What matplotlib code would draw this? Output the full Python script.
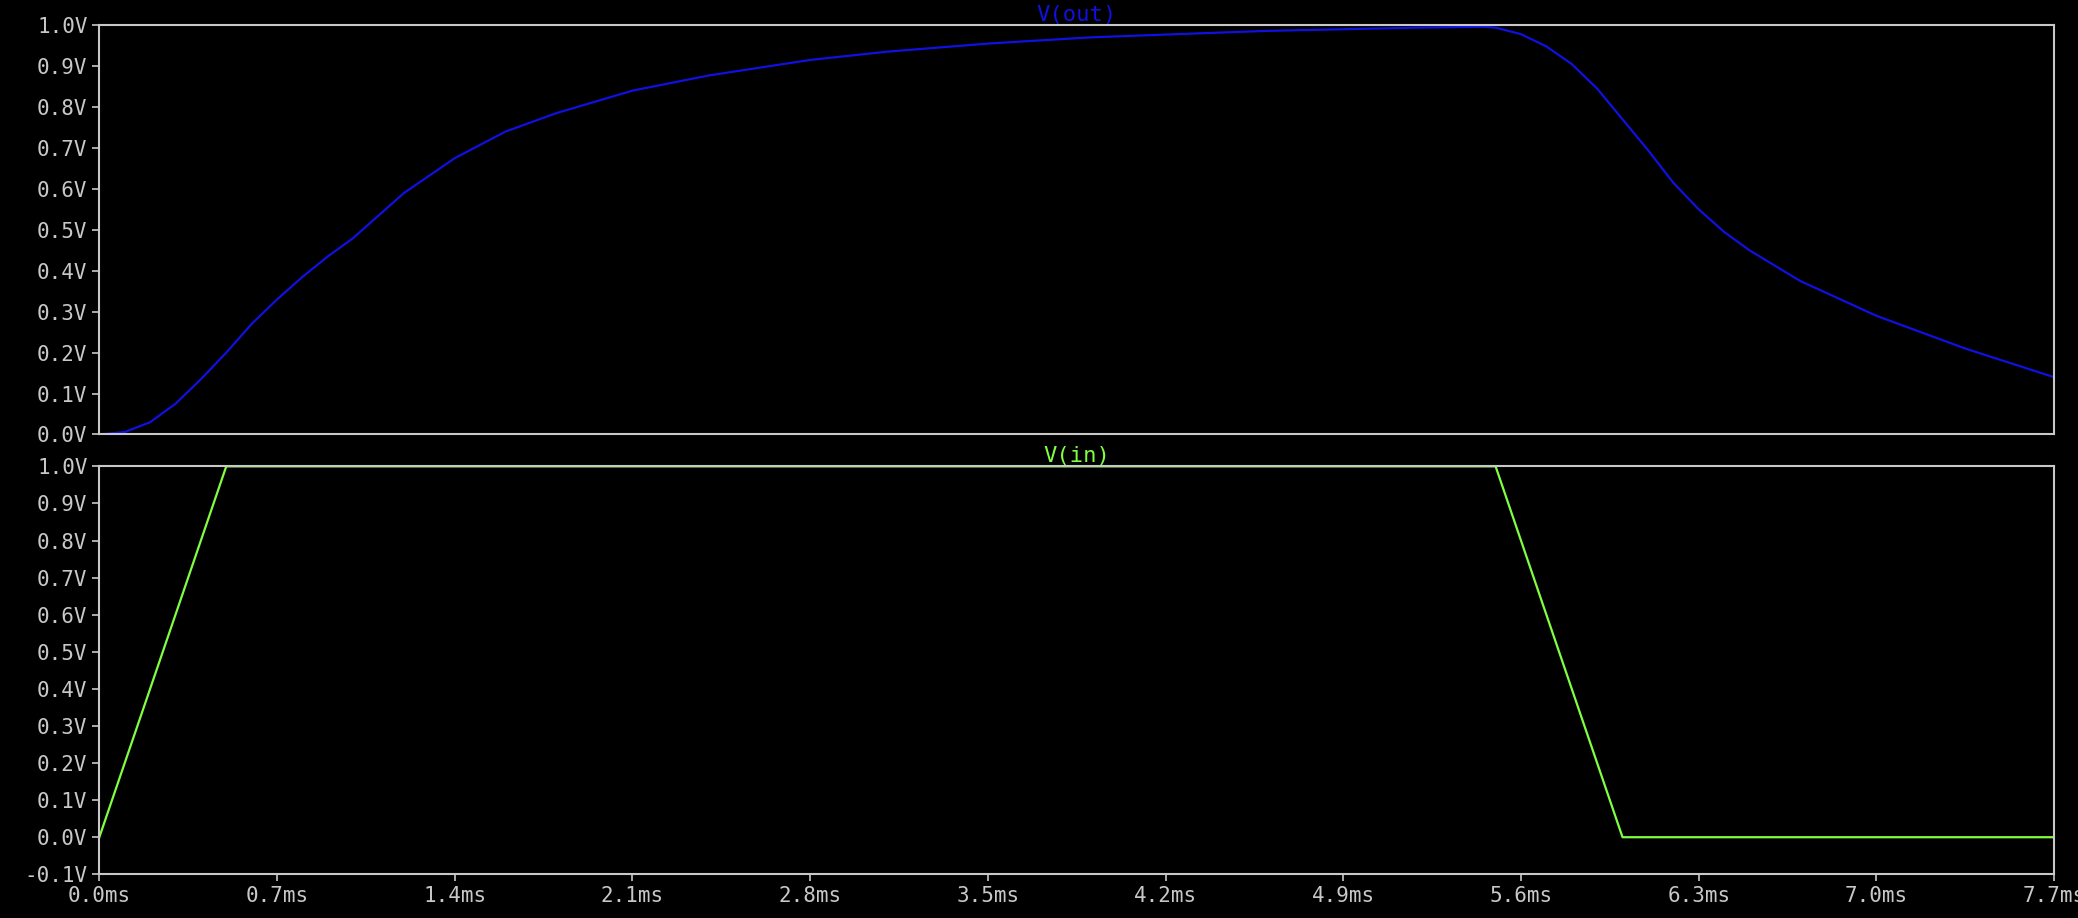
import matplotlib
matplotlib.use("Agg")
import matplotlib.pyplot as plt
import numpy as np

# V(out) samples (ms, V)
t_out = [0.0, 0.1, 0.2, 0.3, 0.4, 0.5, 0.6, 0.7, 0.8, 0.9, 1.0, 1.2, 1.4, 1.6, 1.8, 2.1, 2.4, 2.8, 3.1, 3.5,
         3.9, 4.2, 4.6, 4.9, 5.2, 5.45, 5.5, 5.6, 5.7, 5.8, 5.9, 6.0, 6.1, 6.2, 6.3, 6.4, 6.5, 6.7, 7.0, 7.35, 7.7]
v_out = [0.0, 0.006, 0.03, 0.075, 0.135, 0.2, 0.27, 0.33, 0.385, 0.435, 0.48, 0.59, 0.675, 0.74, 0.785, 0.84,
         0.877, 0.915, 0.935, 0.955, 0.97, 0.977, 0.986, 0.99, 0.994, 0.996, 0.994, 0.978, 0.948, 0.905, 0.845,
         0.77, 0.695, 0.615, 0.55, 0.495, 0.45, 0.375, 0.29, 0.21, 0.14]

# V(in) piecewise linear
t_in = [0.0, 0.5, 5.5, 6.0, 7.7]
v_in = [0.0, 1.0, 1.0, 0.0, 0.0]

xticks = [0.0, 0.7, 1.4, 2.1, 2.8, 3.5, 4.2, 4.9, 5.6, 6.3, 7.0, 7.7]

plt.rcParams['font.family'] = ['DejaVu Sans Mono']
fg = "#c8c8c8"

fig = plt.figure(figsize=(20.78, 9.18), dpi=100, facecolor="black")
ax1 = fig.add_axes([0.0478, 0.5267, 0.9407, 0.4459])
ax2 = fig.add_axes([0.0478, 0.0476, 0.9407, 0.4444])

def style(ax, ylo, hi, show_x):
    ax.set_facecolor("black")
    for s in ax.spines.values():
        s.set_color(fg)
        s.set_linewidth(1.5)
    ax.set_xlim(0, 7.7)
    ax.set_ylim(ylo, hi)
    yt = np.round(np.arange(ylo, hi + 0.001, 0.1), 1)
    ax.set_yticks(yt)
    ax.set_yticklabels(["%.1fV" % v for v in yt])
    if show_x:
        ax.set_xticks(xticks)
        ax.set_xticklabels(["%.1fms" % v for v in xticks])
    else:
        ax.set_xticks([])
    ax.tick_params(colors=fg, labelcolor=fg, labelsize=15, length=5, width=1.2)

style(ax1, 0.0, 1.0, False)
style(ax2, -0.1, 1.0, True)

ax1.plot(t_out, v_out, color="#1010e0", lw=1.6)
ax2.plot(t_in, v_in, color="#80ff40", lw=1.6)
ax1.set_title("V(out)", color="#1010e0", fontsize=16, pad=1)
ax2.set_title("V(in)", color="#80ff40", fontsize=16, pad=1)

plt.savefig("out.png", facecolor="black")
